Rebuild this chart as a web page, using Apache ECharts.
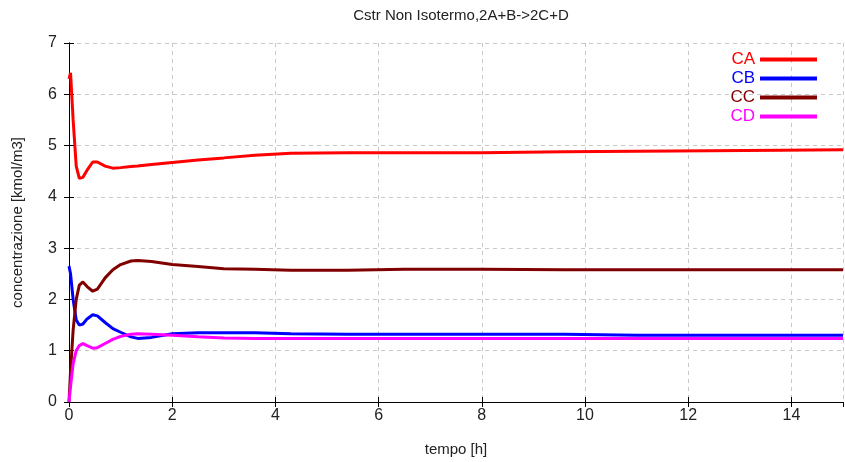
<!DOCTYPE html>
<html><head><meta charset="utf-8">
<script src="https://cdn.jsdelivr.net/npm/echarts@6/dist/echarts.min.js"></script>
<style>html,body{margin:0;padding:0;background:#fff}#c{width:845px;height:462px}</style>
</head><body><div id="c"></div>
<script>
const titleText = "Cstr Non Isotermo,2A+B->2C+D";
const xName = "tempo [h]";
const yName = "concentrazione [kmol/m3]";
const seriesNames = ["CA", "CB", "CC", "CD"];
const tempo = [0, 0.03, 0.08, 0.14, 0.2, 0.27, 0.35, 0.46, 0.55, 0.7, 0.85, 1.0, 1.2, 1.33, 1.6, 2.0, 2.5, 3.0, 3.6, 4.3, 5.4, 6.5, 8, 9.6, 11, 13.8, 15];
const CA = [6.3, 6.42, 5.5, 4.6, 4.36, 4.38, 4.52, 4.68, 4.68, 4.6, 4.56, 4.57, 4.59, 4.6, 4.63, 4.67, 4.72, 4.76, 4.81, 4.85, 4.86, 4.86, 4.86, 4.88, 4.89, 4.91, 4.92];
const CB = [2.65, 2.5, 2.0, 1.6, 1.5, 1.52, 1.62, 1.7, 1.68, 1.55, 1.43, 1.36, 1.27, 1.24, 1.26, 1.33, 1.35, 1.35, 1.35, 1.33, 1.32, 1.32, 1.32, 1.32, 1.30, 1.30, 1.30];
const CC = [0, 0.6, 1.4, 2.0, 2.28, 2.34, 2.25, 2.16, 2.2, 2.42, 2.58, 2.68, 2.75, 2.76, 2.74, 2.68, 2.64, 2.60, 2.59, 2.57, 2.57, 2.59, 2.59, 2.58, 2.58, 2.58, 2.58];
const CD = [0, 0.3, 0.75, 1.0, 1.1, 1.14, 1.1, 1.05, 1.06, 1.14, 1.22, 1.28, 1.32, 1.33, 1.32, 1.3, 1.27, 1.25, 1.24, 1.24, 1.24, 1.24, 1.24, 1.24, 1.24, 1.24, 1.24];
const colors = ["#ff0000", "#0000ff", "#800000", "#ff00ff"];
const values = [CA, CB, CC, CD];

const FONT = "'Liberation Sans Narrow', 'Liberation Sans', Arial, sans-serif";
const chart = echarts.init(document.getElementById('c'));
const gridLine = {show: true, lineStyle: {color: '#c8c8c8', type: [4, 4], width: 1}};
chart.setOption({
  animation: false,
  backgroundColor: '#fff',
  title: {text: titleText, left: 456, top: 3, textAlign: 'center',
    textStyle: {fontFamily: FONT, fontSize: 15, fontWeight: 'normal', color: '#222'}},
  grid: {left: 69, right: 2, top: 43, bottom: 60, containLabel: false, outerBoundsMode: 'none'},
  legend: {
    orient: 'vertical', right: 23, top: 46, itemWidth: 57, itemHeight: 4, icon: 'rect',
    align: 'right', itemGap: 2,
    textStyle: {fontFamily: FONT, fontSize: 17, lineHeight: 17},
    data: seriesNames.map((n, i) => ({name: n, textStyle: {color: colors[i]}}))
  },
  xAxis: [
    {type: 'value', min: 0, max: 15, interval: 2, name: xName, nameLocation: 'middle', nameGap: 40,
      nameTextStyle: {fontFamily: FONT, fontSize: 15, color: '#222'},
      axisLine: {lineStyle: {color: '#000', width: 1}},
      axisTick: {inside: true, length: 5, lineStyle: {color: '#000'}},
      axisLabel: {fontFamily: FONT, fontSize: 16, color: '#222', margin: 6, showMaxLabel: false},
      splitLine: gridLine},
    {type: 'value', position: 'top', min: 0, max: 15, interval: 2,
      axisLine: {show: true, lineStyle: {color: '#000', width: 1}},
      axisTick: {show: true, inside: true, length: 5, lineStyle: {color: '#000'}},
      axisLabel: {show: false}, splitLine: {show: false}}
  ],
  yAxis: [
    {type: 'value', min: 0, max: 7, interval: 1, name: yName, nameLocation: 'middle', nameGap: 44,
      nameTextStyle: {fontFamily: FONT, fontSize: 15, color: '#222'},
      axisLine: {show: true, lineStyle: {color: '#000', width: 1}},
      axisTick: {show: true, inside: true, length: 5, lineStyle: {color: '#000'}},
      axisLabel: {fontFamily: FONT, fontSize: 16, color: '#222', margin: 12},
      splitLine: gridLine},
    {type: 'value', position: 'right', min: 0, max: 7, interval: 1,
      axisLine: {show: true, lineStyle: {color: '#000', width: 1}},
      axisTick: {show: true, inside: true, length: 5, lineStyle: {color: '#000'}},
      axisLabel: {show: false}, splitLine: {show: false}}
  ],
  series: seriesNames.map((n, i) => ({
    name: n, type: 'line', showSymbol: false, symbol: 'none',
    color: colors[i], lineStyle: {width: 3, color: colors[i]},
    data: tempo.map((t, k) => [t, values[i][k]])
  }))
});
</script></body></html>
